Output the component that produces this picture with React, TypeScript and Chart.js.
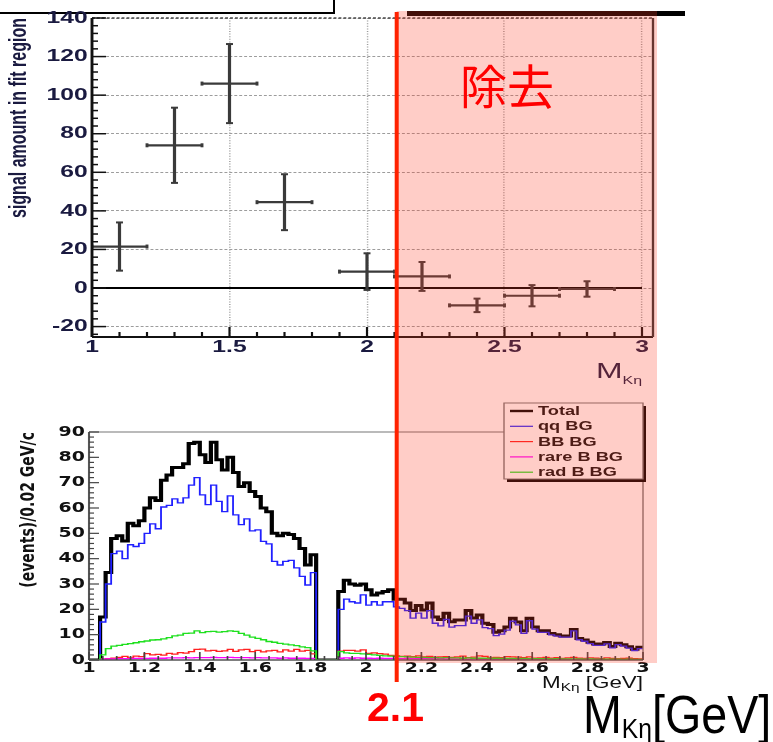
import React, { useEffect, useRef } from "react";
import { Chart, registerables } from "chart.js";

Chart.register(...registerables);
Chart.defaults.font.family = '"Liberation Sans", Arial, sans-serif';

// ---------------- Top panel: signal amount in fit region ----------------
const SIG_X = [1.1, 1.3, 1.5, 1.7, 2.0, 2.2, 2.4, 2.6, 2.8];
const SIG_XERR = [0.1, 0.1, 0.1, 0.1, 0.1, 0.1, 0.1, 0.1, 0.1];
const SIG_Y = [21.5, 74, 106, 44.5, 8.5, 6, -9, -4, -0.5];
const SIG_YERR = [12.5, 19.5, 20.5, 14.5, 9.5, 7.5, 3.5, 5.5, 4];
const ZERO_LINE_X = [1, 3];
const TOP_X_TICKS = [1, 1.5, 2, 2.5, 3];
const TOP_Y_TICKS = [-20, 0, 20, 40, 60, 80, 100, 120, 140];

// ---------------- Bottom panel: background histograms (0.02 GeV bins) ----------------
const BIN_START = 1.0;
const BIN_WIDTH = 0.02;
const TOTAL = [
  0, 0, 17, 34.5, 48, 49, 47, 54, 53, 55,
  60, 64, 63, 71, 73, 76, 76, 77.5, 85.5, 86,
  81, 78, 86, 79, 75, 80, 74, 68.5, 70, 66.5,
  64.5, 60, 58.5, 50, 49, 50, 49.5, 48, 44, 37.5,
  41.5, 0, 0, 0, 0, 27, 31.5, 30, 29.5, 30,
  27.7, 25.7, 26.4, 27, 27.7, 24, 24, 22.5, 19.5, 21.5,
  19.7, 22.5, 17, 16, 18.5, 15.1, 15.8, 15.8, 19.5, 16.6,
  17.8, 14.5, 14, 11, 11.5, 13, 16.5, 15, 11.5, 16.5,
  13, 11.5, 11.5, 10.5, 10, 9.5, 9.5, 12, 8.5, 7.9,
  7, 6.3, 6.3, 6.9, 5.3, 6.6, 6, 5.2, 4.2, 5,
];
const QQ_BG = [
  0, 0, 15, 30, 42, 43, 40, 45.5, 44.8, 46,
  50, 53.7, 51.8, 60.4, 61, 63.6, 62, 64, 69, 72,
  65.2, 61.3, 69, 62.6, 58.6, 64.8, 57.3, 53.4, 55.7, 51,
  51.4, 46.8, 45.8, 38.9, 37.5, 38.9, 39.3, 36.4, 33, 29.6,
  34.5, 0, 0, 0, 0, 20, 24, 23, 22.5, 25.7,
  21.7, 23, 21.7, 23, 23, 21, 20.4, 19.5, 16.5, 18.5,
  16.5, 19.5, 14.5, 13.5, 16, 13, 13.6, 13.6, 17.3, 14.5,
  15.8, 12.8, 12.4, 9.6, 10.2, 11.8, 15.3, 13.9, 10.5, 15.5,
  12.2, 10.9, 10.9, 9.9, 9.4, 9, 9, 11.5, 8, 7.4,
  6.5, 5.8, 5.8, 6.4, 4.8, 6.1, 5.5, 4.7, 3.7, 4.5,
];
const BB_BG = [
  0, 0, 0.3, 0.5, 0.7, 1, 1.4, 0.8, 1.5, 1.3,
  2.5, 2, 2.2, 1.9, 2.6, 2.3, 2.9, 2.7, 3.3, 4.2,
  4.3, 3.6, 3.8, 3.4, 3.6, 4.2, 3.4, 4, 4.2, 3.3,
  3.8, 3.2, 3.6, 3.8, 3.2, 4, 3.5, 4.2, 3.5, 3.8,
  2.4, 0, 0, 0, 0, 3.5, 3.8, 3.8, 3.5, 4,
  2.6, 2.8, 2.5, 2.3, 1.8, 1.6, 1.4, 1.5, 1.3, 1.6,
  1.2, 1.4, 1.1, 1.2, 1.3, 1, 1.2, 1.5, 0.9, 1.1,
  1.6, 1.4, 0.8, 1, 0.9, 1.3, 1.2, 1.1, 0.9, 1.2,
  0.7, 0.8, 1, 0.7, 0.9, 0.6, 0.8, 1, 0.7, 0.6,
  0.8, 0.7, 0.5, 0.8, 0.6, 0.5, 0.6, 0.7, 0.5, 0.4,
];
const RARE_B_BG = [
  0, 0, 0.3, 0.4, 0.4, 0.5, 0.5, 0.5, 0.6, 0.6,
  0.6, 0.7, 0.7, 0.7, 0.8, 0.8, 0.8, 0.9, 0.8, 0.9,
  0.9, 0.9, 1, 0.9, 0.9, 1, 0.9, 0.9, 0.9, 0.8,
  0.9, 0.8, 0.8, 0.8, 0.7, 0.8, 0.7, 0.7, 0.7, 0.6,
  0.6, 0, 0, 0, 0, 0.7, 0.8, 0.7, 0.8, 0.7,
  0.7, 0.6, 0.7, 0.6, 0.6, 0.6, 0.5, 0.6, 0.5, 0.5,
  0.5, 0.5, 0.4, 0.5, 0.4, 0.4, 0.4, 0.4, 0.3, 0.4,
  0.3, 0.3, 0.4, 0.3, 0.3, 0.3, 0.3, 0.2, 0.3, 0.2,
  0.2, 0.3, 0.2, 0.2, 0.2, 0.2, 0.2, 0.1, 0.2, 0.2,
  0.1, 0.2, 0.1, 0.1, 0.1, 0.1, 0.1, 0.1, 0.1, 0.1,
];
const RAD_B_BG = [
  0, 0, 2, 4.5, 5.5, 5.8, 6.2, 6.5, 6.8, 7.2,
  7.5, 7.9, 8, 8.3, 8.8, 9.5, 9.8, 10.5, 10.6, 11.5,
  10.8, 11.2, 11.3, 11, 11.2, 11.5, 11.3, 10.5, 9.8, 9,
  8.5, 8, 7.3, 7, 6.6, 6.3, 6, 5.7, 5.2, 4.9,
  3.6, 0, 0, 0, 0, 3.3, 2.8, 2.6, 2.6, 2.4,
  2.2, 2, 1.8, 1.6, 1.5, 1.4, 1.3, 1.2, 1.1, 1,
  1, 0.9, 0.9, 0.8, 0.9, 0.8, 0.8, 0.7, 0.8, 0.7,
  0.7, 0.7, 0.6, 0.7, 0.6, 0.6, 0.6, 0.5, 0.6, 0.5,
  0.5, 0.5, 0.5, 0.4, 0.5, 0.4, 0.4, 0.4, 0.4, 0.3,
  0.4, 0.3, 0.3, 0.3, 0.3, 0.3, 0.2, 0.3, 0.2, 0.2,
];
const SERIES_LABELS = ["Total", "qq BG", "BB BG", "rare B BG", "rad B BG"];
const BOT_X_TICKS = [1, 1.2, 1.4, 1.6, 1.8, 2, 2.2, 2.4, 2.6, 2.8, 3];
const BOT_Y_TICKS = [0, 10, 20, 30, 40, 50, 60, 70, 80, 90];
const CUT_VALUE = 2.1;

// ---------------- layout / style constants ----------------
const W = 773;
const H = 742;
const S_TOP = 1.45; // horizontal stretch of the pasted top plot
const S_BOT = 1.4; // horizontal stretch of the pasted bottom plot
const TOP_AREA = { left: 92, right: 653, top: 18, bottom: 337 };
const BOT_AREA = { left: 89, right: 643, top: 432, bottom: 660 };
const OVERLAY = { right: 657, top: 11, bottom: 663, lineTop: 12, lineBottom: 682, lineShift: 3 };
const INK = "#1a1a40";
const SANS = '"Liberation Sans", Arial, sans-serif';
const DEJAVU = '"DejaVu Sans", Verdana, sans-serif';

function line(c: CanvasRenderingContext2D, x1: number, y1: number, x2: number, y2: number) {
  c.beginPath();
  c.moveTo(x1, y1);
  c.lineTo(x2, y2);
  c.stroke();
}

function histPoints(vals: number[]) {
  const pts = vals.map((v, i) => ({ x: BIN_START + i * BIN_WIDTH, y: v }));
  pts.push({ x: BIN_START + vals.length * BIN_WIDTH, y: vals[vals.length - 1] });
  return pts;
}

function errorBarPoints() {
  const pts: { x: number; y: number | null }[] = [];
  SIG_X.forEach((x, i) => {
    const y = SIG_Y[i];
    const xe = SIG_XERR[i];
    const ye = SIG_YERR[i];
    pts.push({ x: x - xe, y }, { x: x + xe, y }, { x, y: null });
    pts.push({ x, y: y - ye }, { x, y: y + ye }, { x, y: null });
  });
  return pts;
}

const topDecor = {
  id: "topDecor",
  beforeDraw(chart: any) {
    chart.ctx.save();
    chart.ctx.scale(S_TOP, 1);
  },
  afterDraw(chart: any) {
    const c: CanvasRenderingContext2D = chart.ctx;
    const a = chart.chartArea;
    const xs = chart.scales.x;
    const ys = chart.scales.y;
    const sx = 1 / S_TOP;
    c.save();
    c.lineCap = "butt";
    // frame
    c.strokeStyle = "#4a4a4a";
    c.lineWidth = 1.5;
    c.setLineDash([2, 1.4]);
    line(c, a.left, a.top, a.right, a.top);
    c.setLineDash([]);
    c.strokeStyle = "#111";
    c.lineWidth = 2;
    line(c, a.left, a.top, a.left, a.bottom);
    line(c, a.left, a.bottom, a.right, a.bottom);
    c.strokeStyle = "#333";
    c.lineWidth = 1.6;
    line(c, a.right, a.top, a.right, a.bottom);
    // inner tick marks
    c.strokeStyle = "#111";
    c.lineWidth = 1.5;
    for (let v = -24; v <= 140; v += 4) {
      const y = ys.getPixelForValue(v);
      const major = v % 20 === 0;
      line(c, a.left, y, a.left + (major ? 14 : 6) * sx, y);
    }
    for (let k = 0; k <= 20; k++) {
      const x = xs.getPixelForValue(1 + k * 0.1);
      const major = k % 5 === 0;
      line(c, x, a.bottom, x, a.bottom - (major ? 10 : 5));
    }
    // axis title M_Kη
    c.fillStyle = INK;
    c.textAlign = "left";
    c.textBaseline = "alphabetic";
    c.font = `22px ${SANS}`;
    const wM = c.measureText("M").width;
    c.font = `11px ${SANS}`;
    const wS = c.measureText("Kη").width;
    const x0 = xs.getPixelForValue(3) - wM - wS;
    c.font = `22px ${SANS}`;
    c.fillText("M", x0, 378);
    c.font = `11px ${SANS}`;
    c.fillText("Kη", x0 + wM, 384);
    c.restore();
    c.restore();
  },
};

const botDecor = {
  id: "botDecor",
  beforeDraw(chart: any) {
    chart.ctx.save();
    chart.ctx.scale(S_BOT, 1);
  },
  afterDraw(chart: any) {
    const c: CanvasRenderingContext2D = chart.ctx;
    const a = chart.chartArea;
    const xs = chart.scales.x;
    const ys = chart.scales.y;
    const sx = 1 / S_BOT;
    c.save();
    c.lineCap = "butt";
    // legend box geometry
    const boxW = 139 * sx;
    const boxH = 76;
    const bx = a.right - boxW;
    const by = a.top - 29;
    // frame
    c.strokeStyle = "#777";
    c.lineWidth = 1;
    line(c, a.left, a.top, bx, a.top);
    line(c, a.right, by + boxH, a.right, a.bottom);
    c.strokeStyle = "#555";
    c.lineWidth = 1.5;
    line(c, a.left, a.top, a.left, a.bottom);
    line(c, a.left, a.bottom, a.right, a.bottom);
    // inner tick marks
    c.strokeStyle = "#444";
    c.lineWidth = 1.2;
    for (let v = 0; v <= 90; v += 2) {
      const y = ys.getPixelForValue(v);
      const major = v % 10 === 0;
      line(c, a.left, y, a.left + (major ? 10 : 5) * sx, y);
    }
    for (let k = 0; k <= 40; k++) {
      const x = xs.getPixelForValue(1 + k * 0.05);
      const major = k % 4 === 0;
      line(c, x, a.bottom, x, a.bottom - (major ? 8 : 4));
    }
    // axis title M_Kη [GeV]
    c.fillStyle = "#111";
    c.textAlign = "left";
    c.textBaseline = "alphabetic";
    c.font = `16px ${SANS}`;
    const wM = c.measureText("M").width;
    const wG = c.measureText(" [GeV]").width;
    c.font = `11px ${SANS}`;
    const wS = c.measureText("Kη").width;
    const x0 = a.right - wM - wS - wG;
    c.font = `16px ${SANS}`;
    c.fillText("M", x0, 688);
    c.fillText(" [GeV]", x0 + wM + wS, 688);
    c.font = `11px ${SANS}`;
    c.fillText("Kη", x0 + wM, 691);
    // legend
    c.fillStyle = "#000";
    c.fillRect(bx + 3 * sx, by + 3, boxW, boxH);
    c.fillStyle = "#fff";
    c.fillRect(bx, by, boxW, boxH);
    c.strokeStyle = "#777";
    c.lineWidth = 1;
    c.strokeRect(bx, by, boxW, boxH);
    c.font = `bold 13px ${SANS}`;
    c.textBaseline = "middle";
    chart.data.datasets.forEach((ds: any, i: number) => {
      const y = by + 8 + i * 15.3;
      c.strokeStyle = ds.borderColor;
      c.lineWidth = i === 0 ? 2.4 : 1.2;
      line(c, bx + 6 * sx, y, bx + 29 * sx, y);
      c.fillStyle = "#111";
      c.fillText(ds.label, bx + 34 * sx, y + 0.5);
    });
    c.restore();
    c.restore();

    // excluded region overlay (page coordinates)
    const xCut = xs.getPixelForValue(CUT_VALUE) * S_BOT + OVERLAY.lineShift;
    c.save();
    c.fillStyle = "rgba(255, 60, 40, 0.26)";
    c.fillRect(xCut, OVERLAY.top, OVERLAY.right - xCut, OVERLAY.bottom - OVERLAY.top);
    c.strokeStyle = "#ff2200";
    c.lineWidth = 4;
    line(c, xCut, OVERLAY.lineTop, xCut, OVERLAY.lineBottom);
    c.restore();
  },
};

function topConfig(): any {
  const tickFont = { family: SANS, size: 17, weight: "bold" };
  return {
    type: "line",
    data: {
      datasets: [
        {
          label: "signal",
          data: errorBarPoints(),
          borderColor: "#3a3a3a",
          backgroundColor: "#3a3a3a",
          borderWidth: 2.2,
          spanGaps: false,
          pointStyle: "line",
          pointBorderColor: "#3a3a3a",
          pointBorderWidth: 2,
          pointRadius: (ctx: any) => {
            const k = ctx.dataIndex % 6;
            return k === 0 || k === 1 ? 2 : k === 3 || k === 4 ? 2.4 : 0;
          },
          pointRotation: (ctx: any) => (ctx.dataIndex % 6 < 2 ? 90 : 0),
        },
        {
          label: "zero",
          data: ZERO_LINE_X.map((x) => ({ x, y: 0 })),
          borderColor: "#000",
          borderWidth: 2,
          pointRadius: 0,
        },
      ],
    },
    options: {
      responsive: false,
      maintainAspectRatio: false,
      animation: false,
      devicePixelRatio: 1,
      events: [],
      layout: {
        padding: {
          left: 0,
          top: TOP_AREA.top,
          right: W - TOP_AREA.right / S_TOP,
          bottom: H - TOP_AREA.bottom - 40,
        },
      },
      plugins: { legend: { display: false }, tooltip: { enabled: false }, title: { display: false } },
      scales: {
        x: {
          type: "linear",
          min: 1,
          max: 3.04,
          afterBuildTicks: (s: any) => {
            s.ticks = TOP_X_TICKS.map((v) => ({ value: v }));
          },
          afterFit: (s: any) => {
            s.height = 40;
          },
          ticks: {
            font: tickFont,
            color: INK,
            padding: 0,
            maxRotation: 0,
            autoSkip: false,
            callback: (v: any) => String(v),
          },
          grid: {
            drawTicks: false,
            lineWidth: 1,
            color: (ctx: any) => (ctx.tick && ctx.tick.value === 1 ? "rgba(0,0,0,0)" : "#9c9c9c"),
          },
          border: { display: false, dash: [1, 1.6] },
        },
        y: {
          type: "linear",
          min: -25.4,
          max: 140,
          afterBuildTicks: (s: any) => {
            s.ticks = TOP_Y_TICKS.map((v) => ({ value: v }));
          },
          afterFit: (s: any) => {
            s.width = TOP_AREA.left / S_TOP;
          },
          ticks: { font: tickFont, color: INK, padding: 3, autoSkip: false },
          grid: { drawTicks: false, lineWidth: 1, color: "#9c9c9c" },
          border: { display: false, dash: [2, 1.4] },
          title: {
            display: true,
            text: "signal amount in fit region",
            align: "end",
            color: INK,
            font: { family: SANS, size: 16, weight: "bold" },
            padding: { top: 4.2, bottom: 0 },
          },
        },
      },
    },
    plugins: [topDecor],
  };
}

function botConfig(): any {
  const tickFont = { family: DEJAVU, size: 13.5, weight: "bold" };
  const series = [
    { label: SERIES_LABELS[0], vals: TOTAL, color: "#000000", width: 3, order: 5 },
    { label: SERIES_LABELS[1], vals: QQ_BG, color: "#2020ff", width: 1.3, order: 4 },
    { label: SERIES_LABELS[2], vals: BB_BG, color: "#ff2020", width: 1.3, order: 3 },
    { label: SERIES_LABELS[3], vals: RARE_B_BG, color: "#ff00ff", width: 1.3, order: 2 },
    { label: SERIES_LABELS[4], vals: RAD_B_BG, color: "#1fe01f", width: 1.3, order: 1 },
  ];
  return {
    type: "line",
    data: {
      datasets: series.map((s) => ({
        label: s.label,
        data: histPoints(s.vals),
        borderColor: s.color,
        backgroundColor: s.color,
        borderWidth: s.width,
        stepped: "before",
        pointRadius: 0,
        fill: false,
        order: s.order,
      })),
    },
    options: {
      responsive: false,
      maintainAspectRatio: false,
      animation: false,
      devicePixelRatio: 1,
      events: [],
      layout: {
        padding: {
          left: 0,
          top: BOT_AREA.top,
          right: W - BOT_AREA.right / S_BOT,
          bottom: H - BOT_AREA.bottom - 30,
        },
      },
      plugins: { legend: { display: false }, tooltip: { enabled: false }, title: { display: false } },
      scales: {
        x: {
          type: "linear",
          min: 1,
          max: 3,
          afterBuildTicks: (s: any) => {
            s.ticks = BOT_X_TICKS.map((v) => ({ value: v }));
          },
          afterFit: (s: any) => {
            s.height = 30;
          },
          ticks: {
            font: tickFont,
            color: "#111",
            padding: 0,
            maxRotation: 0,
            autoSkip: false,
            callback: (v: any) => String(v),
          },
          grid: { display: false, drawTicks: false },
          border: { display: false },
        },
        y: {
          type: "linear",
          min: 0,
          max: 90,
          afterBuildTicks: (s: any) => {
            s.ticks = BOT_Y_TICKS.map((v) => ({ value: v }));
          },
          afterFit: (s: any) => {
            s.width = BOT_AREA.left / S_BOT;
          },
          ticks: { font: tickFont, color: "#111", padding: 3, autoSkip: false },
          grid: { display: false, drawTicks: false },
          border: { display: false },
          title: {
            display: true,
            text: "(events)/0.02 GeV/c",
            align: "end",
            color: "#111",
            font: { family: DEJAVU, size: 14, weight: "bold" },
            padding: { top: 12.6, bottom: 0 },
          },
        },
      },
    },
    plugins: [botDecor],
  };
}

export default function App() {
  const topRef = useRef<HTMLCanvasElement>(null);
  const botRef = useRef<HTMLCanvasElement>(null);

  useEffect(() => {
    const top = new Chart(topRef.current as HTMLCanvasElement, topConfig());
    const bot = new Chart(botRef.current as HTMLCanvasElement, botConfig());
    return () => {
      top.destroy();
      bot.destroy();
    };
  }, []);

  const canvasStyle: React.CSSProperties = {
    position: "absolute",
    left: 0,
    top: 0,
    width: W,
    height: H,
  };

  return (
    <div
      style={{
        position: "absolute",
        left: 0,
        top: 0,
        width: W,
        height: H,
        overflow: "hidden",
        background: "#fff",
      }}
    >
      <div
        style={{
          position: "absolute",
          left: -2,
          top: -2,
          width: 333,
          height: 12,
          border: "2px solid #000",
          background: "#fff",
        }}
      />
      <div style={{ position: "absolute", left: 407, top: 11, width: 278, height: 4.5, background: "#000" }} />
      <canvas ref={topRef} width={W} height={H} style={canvasStyle} />
      <canvas ref={botRef} width={W} height={H} style={canvasStyle} />
      <div
        style={{
          position: "absolute",
          left: 460,
          top: 60,
          fontFamily: '"Noto Sans CJK JP", "Noto Sans CJK SC", sans-serif',
          fontSize: 47,
          lineHeight: 1,
          color: "#ff0000",
          whiteSpace: "nowrap",
        }}
      >
        除去
      </div>
      <div
        style={{
          position: "absolute",
          left: 367,
          top: 687,
          fontFamily: SANS,
          fontWeight: "bold",
          fontSize: 41,
          lineHeight: 1,
          color: "#ff0000",
          whiteSpace: "nowrap",
        }}
      >
        2.1
      </div>
      <div
        style={{
          position: "absolute",
          left: 583,
          top: 688,
          fontFamily: SANS,
          fontSize: 53,
          lineHeight: 1,
          color: "#000",
          whiteSpace: "nowrap",
          transform: "scaleX(0.88)",
          transformOrigin: "left top",
        }}
      >
        M<span style={{ fontSize: 28, verticalAlign: -5 }}>Kη</span>[GeV]
      </div>
    </div>
  );
}
